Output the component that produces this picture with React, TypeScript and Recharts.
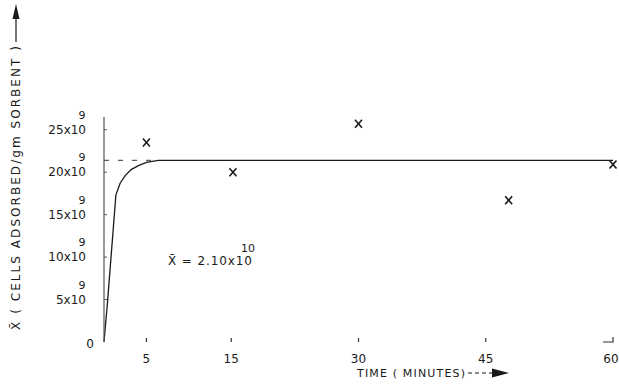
import React from 'react';
import { ComposedChart, Line, Scatter, XAxis, YAxis } from 'recharts';

// Curve (fitted) : time in minutes, cells adsorbed in units of 10^9
const curveTime = [0, 0.4, 1.4, 1.9, 2.5, 3.2, 4.0, 5.0, 6.4, 60];
const curveValue = [0, 4.5, 17.3, 18.7, 19.6, 20.3, 20.75, 21.15, 21.4, 21.4];

// Dashed plateau guide
const dashTime = [0, 6.4];
const dashValue = [21.4, 21.4];

// Observed points (X markers)
const obsTime = [5, 15.2, 30, 47.7, 60];
const obsValue = [23.5, 20.0, 25.7, 16.7, 20.9];

const xTicks = [5, 15, 30, 45, 60];
const yTicks = [0, 5, 10, 15, 20, 25];

const curveData = curveTime.map((t, i) => ({ t, v: curveValue[i] }));
const dashData = dashTime.map((t, i) => ({ t, v: dashValue[i] }));
const obsData = obsTime.map((t, i) => ({ t, v: obsValue[i] }));

const FONT = '"DejaVu Sans", sans-serif';
const INK = '#1a1a1a';

const YTick = (props: any) => {
  const { y, payload } = props;
  const v = payload.value;
  if (v === 0) {
    return (
      <text x={90} y={y + 6} textAnchor="middle" fontSize={12} fill={INK} fontFamily={FONT}>
        0
      </text>
    );
  }
  return (
    <g>
      <line x1={104} x2={107} y1={y} y2={y} stroke="#555" strokeWidth={1} />
      <text x={86} y={y + 4} textAnchor="end" fontSize={12} fill={INK} fontFamily={FONT}>
        {`${v}x10`}
      </text>
      <text x={82} y={y - 11} textAnchor="middle" fontSize={11} fill={INK} fontFamily={FONT}>
        9
      </text>
    </g>
  );
};

const XTick = (props: any) => {
  const { x, payload } = props;
  const v = payload.value;
  return (
    <g>
      {v === 60 ? (
        <path d={`M${x - 8},342 L${x + 2},342 L${x + 2},337`} stroke="#333" fill="none" strokeWidth={1.2} />
      ) : (
        <line x1={x} x2={x} y1={338} y2={342} stroke="#333" strokeWidth={1.2} />
      )}
      <text x={x} y={363} textAnchor="middle" fontSize={12} fill={INK} fontFamily={FONT}>
        {v}
      </text>
    </g>
  );
};

const XMark = (props: any) => {
  const { cx, cy } = props;
  const s = 3.5;
  return (
    <g stroke={INK} strokeWidth={1.6}>
      <line x1={cx - s} y1={cy - s - 0.5} x2={cx + s} y2={cy + s + 0.5} />
      <line x1={cx + s} y1={cy - s - 0.5} x2={cx - s} y2={cy + s + 0.5} />
    </g>
  );
};

export default function App() {
  return (
    <div style={{ position: 'absolute', left: 0, top: 0, width: 619, height: 389, background: '#fff' }}>
      <ComposedChart
        width={619}
        height={389}
        margin={{ top: 117, right: 6, bottom: 0, left: 0 }}
        style={{ position: 'absolute', left: 0, top: 0 }}
      >
        <XAxis
          type="number"
          dataKey="t"
          domain={[0, 60]}
          ticks={xTicks}
          axisLine={false}
          tickLine={false}
          tick={<XTick />}
          height={47}
        />
        <YAxis
          type="number"
          dataKey="v"
          domain={[0, 26.5]}
          ticks={yTicks}
          width={104}
          axisLine={{ stroke: '#555', strokeWidth: 1.2 }}
          tickLine={false}
          tick={<YTick />}
        />
        <Line
          data={dashData}
          dataKey="v"
          type="linear"
          stroke="#333"
          strokeWidth={1}
          strokeDasharray="5 9"
          dot={false}
          activeDot={false}
          isAnimationActive={false}
        />
        <Line
          data={curveData}
          dataKey="v"
          type="linear"
          stroke={INK}
          strokeWidth={1.3}
          dot={false}
          activeDot={false}
          isAnimationActive={false}
        />
        <Scatter data={obsData} dataKey="v" shape={<XMark />} isAnimationActive={false} />
      </ComposedChart>
      <svg
        width={619}
        height={389}
        style={{ position: 'absolute', left: 0, top: 0, pointerEvents: 'none' }}
        fontFamily={FONT}
      >
        {/* Y axis title with arrow */}
        <text
          transform="translate(20,330) rotate(-90)"
          fontSize={12}
          fill={INK}
          textLength={284}
          lengthAdjust="spacing"
        >
          {'X\u0304 ( CELLS ADSORBED/gm SORBENT )'}
        </text>
        <line x1={16} x2={16} y1={42} y2={18} stroke={INK} strokeWidth={1.2} />
        <polygon points="16,4 12.5,19 19.5,19" fill={INK} />
        {/* X axis title with arrow */}
        <text x={357} y={377} fontSize={11} fill={INK} textLength={108} lengthAdjust="spacing">
          TIME ( MINUTES)
        </text>
        <line x1={468} x2={493} y1={373} y2={373} stroke={INK} strokeWidth={1.2} strokeDasharray="4 3" />
        <polygon points="492,368.5 509,373 492,377.5" fill={INK} />
        {/* Annotation */}
        <text x={168} y={265} fontSize={12} fill={INK} textLength={84} lengthAdjust="spacing">
          {'X\u0304 = 2.10x10'}
        </text>
        <text x={241} y={252} fontSize={11} fill={INK}>
          10
        </text>
      </svg>
    </div>
  );
}
